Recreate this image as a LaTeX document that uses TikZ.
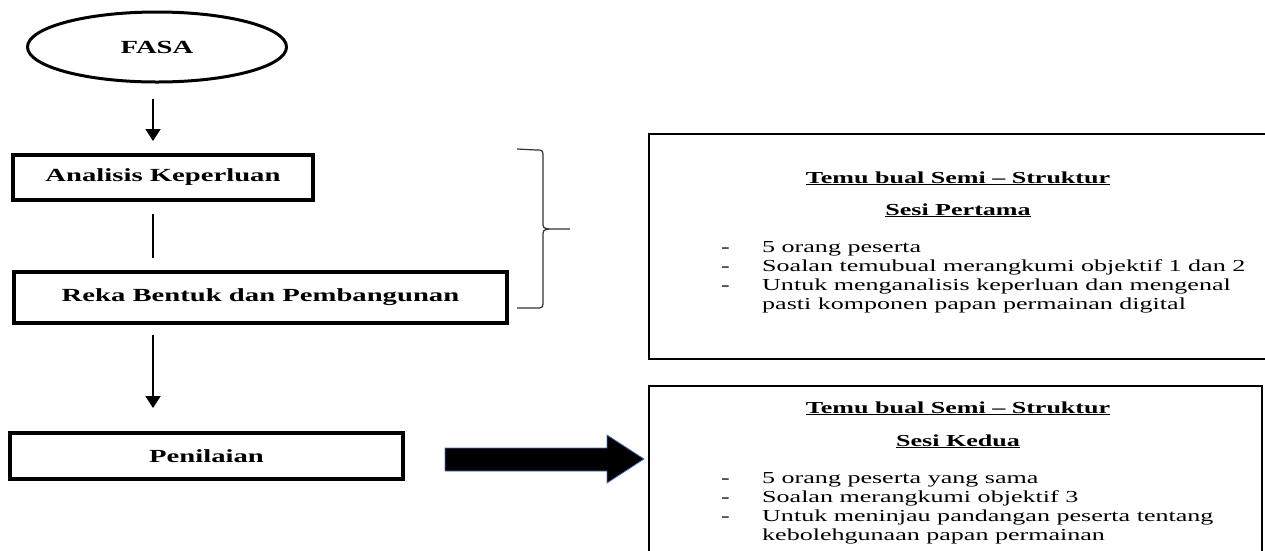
\documentclass[tikz,border=0pt]{standalone}
\usepackage{fontspec}
\setmainfont{Liberation Serif}[FakeStretch=1.55]
\usepackage{tikz}
\usetikzlibrary{shapes.geometric, arrows.meta, positioning}
\usetikzlibrary{calc}
\definecolor{arrowblue}{HTML}{4472C4}
\newcommand{\phasefont}{\fontsize{18.5}{21}\selectfont\bfseries}
\newcommand{\notefont}{\fontsize{16.8}{19}\selectfont}
\newcommand{\dashitem}[1]{\makebox[41pt][l]{-}#1}
\newcommand{\dashgap}{\hspace*{41pt}}

\begin{document}
\begin{tikzpicture}
  [
    x=1pt, y=-1pt,
    Start/.style={ellipse, draw=black, line width=3pt, font=\phasefont, minimum width=259pt, minimum height=70pt},
    Phase/.style={rectangle, draw=black, line width=4pt, font=\phasefont},
    Flow/.style={line width=1.8pt, -{Triangle[width=15pt, length=12pt]}},
    Link/.style={line width=1.8pt},
    Brace/.style={line width=1.2pt, draw=black!80, line join=round},
    Frame/.style={rectangle, draw=black, line width=2pt, anchor=north west},
    Heading/.style={font=\notefont\bfseries, anchor=base, inner sep=0pt},
    Items/.style={font=\notefont, align=left, anchor=base west, inner sep=0pt}
  ]
  \useasboundingbox (0,0) rectangle (1265,550);
  \clip (0,0) rectangle (1265,550);
  % Phases
  \node[Start] (fasa) at (157,47) {FASA};
  \node[Phase, minimum width=300pt, minimum height=45pt] (analisis) at (163,177.5) {Analisis Keperluan};
  \node[Phase, minimum width=493pt, minimum height=51pt] (reka) at (260.5,297.5) {Reka Bentuk dan Pembangunan};
  \node[Phase, minimum width=393pt, minimum height=46pt] (penilaian) at (206.5,456) {Penilaian};
  \coordinate (spine) at (153,0);
  % Lines
  \draw[Flow, shorten <=15pt, shorten >=12pt] (fasa.south -| spine) -- (analisis.north -| spine);
  \draw[Link, shorten <=12pt, shorten >=12pt] (analisis.south -| spine) -- (reka.north -| spine);
  \draw[Flow, shorten <=10pt, shorten >=23pt] (reka.south -| spine) -- (penilaian.north -| spine);
  % Brace
  \draw[Brace] (517,149) -- (536,150) .. controls (543,150) .. (543,158) -- (543,221)
    .. controls (543,228) .. (549,229) -- (570,229);
  \draw[Brace] (549,229) .. controls (543,230) .. (543,237) -- (543,300)
    .. controls (543,308) .. (536,308) -- (517,308);
  % Block arrow
  \draw[draw=arrowblue, fill=black, line width=0.8pt] (445,448) -- (607,448) -- (607,435)
    -- (644,459) -- (607,483) -- (607,471) -- (445,471) -- cycle;
  % Interview boxes (base of the item lists is their last line)
  \node[Frame, minimum width=660pt, minimum height=225pt] (sesi1) at (648,133) {};
  \node[Heading] (tajuk1) at ($(sesi1.north west)+(310,50)$) {\underline{Temu bual Semi – Struktur}};
  \node[Heading] (nama1) at ($(sesi1.north west)+(310,82)$) {\underline{Sesi Pertama}};
  \node[Items] (isi1) at ($(sesi1.north west)+(73,176)$) {%
    \dashitem{5 orang peserta}\\
    \dashitem{Soalan temubual merangkumi objektif 1 dan 2}\\
    \dashitem{Untuk menganalisis keperluan dan mengenal}\\
    \dashgap pasti komponen papan permainan digital};
  \node[Frame, minimum width=613pt, minimum height=220pt] (sesi2) at (648,385) {};
  \node[Heading] (tajuk2) at ($(sesi2.north west)+(310,28)$) {\underline{Temu bual Semi – Struktur}};
  \node[Heading] (nama2) at ($(sesi2.north west)+(310,61)$) {\underline{Sesi Kedua}};
  \node[Items] (isi2) at ($(sesi2.north west)+(73,155)$) {%
    \dashitem{5 orang peserta yang sama}\\
    \dashitem{Soalan merangkumi objektif 3}\\
    \dashitem{Untuk meninjau pandangan peserta tentang}\\
    \dashgap kebolehgunaan papan permainan};
\end{tikzpicture}
\end{document}
